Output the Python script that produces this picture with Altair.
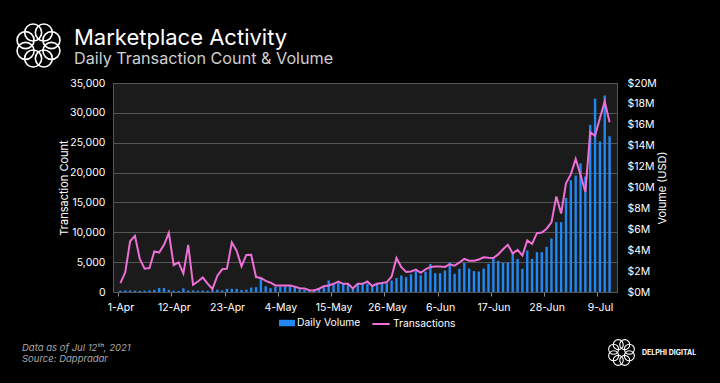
import json
import numpy as np
import pandas as pd
import altair as alt

# ---------------- data ----------------
tick_labels = ["1-Apr", "12-Apr", "23-Apr", "4-May", "15-May", "26-May",
               "6-Jun", "17-Jun", "28-Jun", "9-Jul"]

dates = pd.date_range("2021-04-01", "2021-07-11", freq="D").strftime("%Y-%m-%d").tolist()

transactions = [
    1500, 3300, 8500, 9400, 5550, 3900, 4000, 6800, 6600, 7900,
    9900, 4500, 4950, 3100, 7900, 1200, 1750, 2450, 1400, 500,
    2700, 3800, 3900, 8300, 6900, 4300, 6200, 6250, 2500, 2350,
    1850, 1550, 1100, 1100, 1100, 1100, 900, 620, 600, 300,
    250, 550, 970, 1090, 1370, 1760, 1370, 1370, 600, 1370,
    1370, 1760, 1000, 1370, 1500, 1650, 2600, 5700, 4150, 3350,
    3450, 3750, 3200, 3800, 4200, 4250, 4250, 4200, 4650, 4400,
    4950, 5550, 5250, 5250, 5440, 5800, 5720, 5680, 6300, 7150,
    7900, 6450, 7050, 6110, 8650, 8050, 9850, 9950, 10600, 11650,
    16000, 13150, 18200, 19700, 22300, 19600, 16750, 26760, 26150, 29100,
    31900, 28440,
]

volume_musd = [
    0.12, 0.15, 0.15, 0.12, 0.10, 0.12, 0.15, 0.20, 0.38, 0.38,
    0.20, 0.12, 0.10, 0.35, 0.15, 0.15, 0.12, 0.15, 0.12, 0.18,
    0.22, 0.15, 0.30, 0.30, 0.30, 0.20, 0.22, 0.42, 0.46, 1.35,
    0.55, 0.37, 0.50, 0.53, 0.62, 0.60, 0.50, 0.25, 0.20, 0.15,
    0.24, 0.37, 0.46, 1.10, 0.75, 0.90, 0.75, 0.75, 0.43, 0.80,
    0.80, 0.80, 0.60, 0.75, 0.90, 0.85, 1.10, 1.35, 1.58, 1.42,
    1.70, 2.00, 1.60, 1.95, 2.68, 1.80, 1.80, 2.06, 2.85, 1.74,
    2.22, 2.78, 2.25, 2.00, 1.96, 2.25, 2.70, 3.17, 2.98, 2.79,
    2.82, 3.75, 3.15, 2.22, 3.97, 3.17, 3.81, 3.81, 4.32, 5.12,
    6.68, 6.68, 9.00, 10.70, 11.15, 12.30, 11.06, 16.00, 18.50, 14.40,
    18.80, 14.90,
]

left_ticks = [0, 5000, 10000, 15000, 20000, 25000, 30000, 35000]
left_labels = ["0", "5,000", "10,000", "15,000", "20,000", "25,000", "30,000", "35,000"]
right_ticks = [0, 2, 4, 6, 8, 10, 12, 14, 16, 18, 20]

# ---------------- style ----------------
FONT = "Inter"
BLUE = "#2188f2"
PINK = "#ee6fd6"
GRID = "#555555"
W, H = 504, 209

df = pd.DataFrame({
    "i": np.arange(len(dates)),
    "date": dates,
    "tx": transactions,
    "vol": volume_musd,
})

x_enc = alt.X(
    "i:Q",
    scale=alt.Scale(domain=[-0.5, len(dates) - 0.5], nice=False, zero=False),
    axis=alt.Axis(
        values=[-0.5 + 11 * k for k in range(len(tick_labels))],
        labelExpr=json.dumps(tick_labels) + "[round((datum.value + 0.5) / 11)]",
        labelOffset=2.5, labelFlush=False, labelOverlap=False,
        tickSize=4, tickColor="#8a8a8a", tickWidth=1,
        domain=False, grid=False, title=None,
        labelColor="#ffffff", labelFontSize=10.5, labelFont=FONT, labelPadding=6,
    ),
)

base = alt.Chart(df)

bars = base.mark_bar(size=2.4).encode(
    x=x_enc,
    y=alt.Y(
        "vol:Q",
        scale=alt.Scale(domain=[0, 20], nice=False),
        axis=alt.Axis(
            orient="right", values=right_ticks,
            labelExpr="'$' + datum.value + 'M'",
            grid=False, ticks=False, domain=False,
            labelPadding=10, labelColor="#ffffff", labelFontSize=10.5, labelFont=FONT,
            title="Volume (USD)", titleColor="#ffffff", titleFontSize=11,
            titleFontWeight="normal", titleFont=FONT, titlePadding=0,
            titleAngle=270, titleBaseline="top",
        ),
    ),
    fill=alt.Fill(
        "s:N",
        scale=alt.Scale(domain=["Daily Volume"], range=[BLUE]),
        legend=alt.Legend(
            orient="none", legendX=166, legendY=232, title=None,
            symbolType="M-1,-0.4H1V0.4H-1Z", symbolSize=256, symbolStrokeWidth=0,
            labelColor="#ffffff", labelFontSize=10.3, labelFont=FONT, labelOffset=2,
        ),
    ),
    tooltip=["date:N", "vol:Q"],
).transform_calculate(s="'Daily Volume'")

line = base.mark_line(strokeWidth=2).encode(
    x=x_enc,
    y=alt.Y(
        "tx:Q",
        scale=alt.Scale(domain=[0, 35000], nice=False),
        axis=alt.Axis(
            orient="left", values=left_ticks,
            labelExpr=json.dumps(left_labels) + "[round(datum.value / 5000)]",
            grid=True, gridColor=GRID, gridWidth=1,
            ticks=False, domain=False,
            labelPadding=8, labelColor="#ffffff", labelFontSize=10.5, labelFont=FONT,
            title="Transaction Count", titleColor="#ffffff", titleFontSize=11,
            titleFontWeight="normal", titleFont=FONT, titlePadding=0,
        ),
    ),
    stroke=alt.Stroke(
        "s:N",
        scale=alt.Scale(domain=["Transactions"], range=[PINK]),
        legend=alt.Legend(
            orient="none", legendX=258, legendY=231, title=None,
            symbolType="stroke", symbolSize=300, symbolStrokeWidth=2,
            labelColor="#ffffff", labelFontSize=10.3, labelFont=FONT, labelOffset=2,
        ),
    ),
    tooltip=["date:N", "tx:Q"],
).transform_calculate(s="'Transactions'")

one = alt.Data(values=[{}])


def text_layer(txt, x, y, size, color, weight="normal", style="normal", align="left",
               baseline="alphabetic", font=FONT):
    return alt.Chart(one).mark_text(
        text=txt, align=align, baseline=baseline, fontSize=size, color=color,
        fontWeight=weight, fontStyle=style, font=font,
    ).encode(x=alt.value(x), y=alt.value(y))


def ring_logo(cx, cy, ring_r, loop_r, width):
    layers = []
    for k in range(8):
        a = 2 * np.pi * k / 8 + np.pi / 8
        layers.append(
            alt.Chart(one).mark_point(
                shape="circle", filled=False, size=(2 * loop_r) ** 2,
                stroke="#ffffff", strokeWidth=width, opacity=1,
            ).encode(x=alt.value(float(cx + ring_r * np.cos(a))),
                     y=alt.value(float(cy + ring_r * np.sin(a))))
        )
    return layers


title = text_layer("Marketplace Activity", -39, -38.5, 22, "#ffffff")
subtitle = text_layer("Daily Transaction Count & Volume", -39, -19, 16.2, "#cfcfcf")
foot1 = text_layer("Data as of Jul 12ᵗʰ, 2021", -91, 268, 9.5, "#a8a8a8", style="italic")
foot2 = text_layer("Source: Dappradar", -91, 279, 9.5, "#a8a8a8", style="italic")
brand = text_layer("DELPHI DIGITAL", 529, 269.5, 7, "#ffffff", weight="bold", baseline="middle")

logo_big = ring_logo(-74.5, -37.5, 14.0, 8.5, 1.6)
logo_small = ring_logo(508.5, 269.5, 8.5, 5.0, 1.1)

chart = alt.layer(
    bars, line, title, subtitle, foot1, foot2, brand, *logo_big, *logo_small
).resolve_scale(
    y="independent"
).properties(
    width=W, height=H,
    autosize=alt.AutoSizeParams(type="none"),
    padding={"left": 105, "top": 75, "right": 95, "bottom": 83},
    background="#000000",
).configure_view(
    fill="#1b1b1b", stroke=GRID, strokeWidth=1,
).configure_legend(
    padding=0,
)

# dark page behind the chart (so the 8px page margin is black like the reference)
try:
    import altair.utils.html as _alt_html
    _std_template = _alt_html.TEMPLATES["standard"]

    class _DarkPage:
        def render(self, *args, **kwargs):
            html = _std_template.render(*args, **kwargs)
            return html.replace("<body>", '<body style="background-color:#000000;">', 1)

    _alt_html.TEMPLATES["standard"] = _DarkPage()
except Exception:
    pass

chart.save("out.html", embed_options={"renderer": "svg", "actions": False})
